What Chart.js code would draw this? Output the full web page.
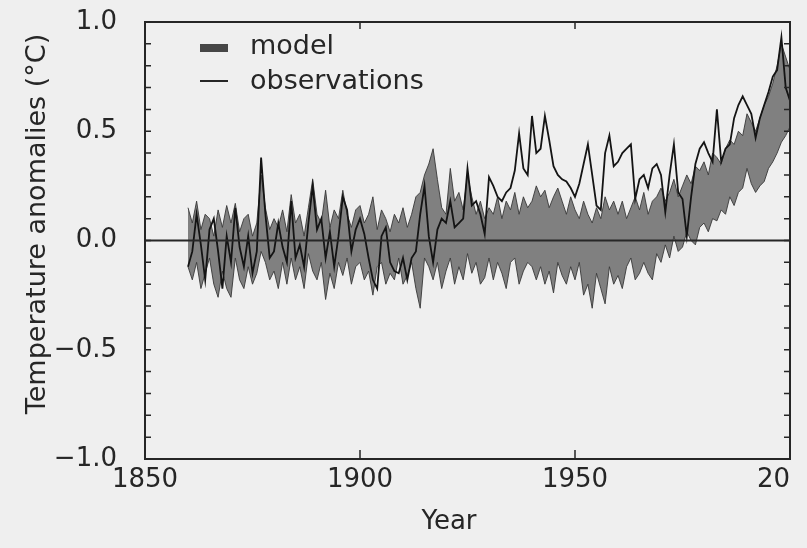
<!doctype html>
<html lang="en">
  <head>
    <meta charset="utf-8">
    <title>Temperature anomalies: model vs observations</title>
    <style>
      * {
        margin: 0;
        padding: 0;
      }
      body {
        background: #efefef;
      }
      .chartBox {
        width: 807px;
        height: 548px;
      }
    </style>
  </head>
  <body>
    <div class="chartBox">
      <canvas id="myChart"></canvas>
    </div>
    <script src="https://cdn.jsdelivr.net/npm/chart.js"></script>
    <script>
    // data (annual values, first year 1860)
    const firstYear = 1860;
    const xTicks = [1850, 1900, 1950, 2000];
    const yTicks = [-1.0, -0.5, 0.0, 0.5, 1.0];

    const observations = [
      -0.12, -0.05, 0.12, -0.02, -0.18, 0.05, 0.10, -0.05, -0.22, 0.02,
      -0.10, 0.15, -0.03, -0.12, 0.02, -0.15, -0.05, 0.38, 0.12, -0.08,
      -0.05, 0.08, -0.03, -0.10, 0.18, -0.08, -0.02, -0.12, 0.08, 0.25,
      0.05, 0.10, -0.08, 0.04, -0.12, 0.02, 0.20, 0.14, -0.05, 0.05,
      0.10, 0.03, -0.08, -0.18, -0.22, 0.02, 0.06, -0.10, -0.14, -0.15,
      -0.08, -0.18, -0.08, -0.05, 0.12, 0.25, 0.02, -0.10, 0.05, 0.10,
      0.08, 0.18, 0.06, 0.08, 0.10, 0.33, 0.16, 0.18, 0.12, 0.03,
      0.29, 0.25, 0.20, 0.18, 0.22, 0.24, 0.32, 0.49, 0.33, 0.30,
      0.57, 0.40, 0.42, 0.57, 0.46, 0.34, 0.30, 0.28, 0.27, 0.24,
      0.20, 0.26, 0.35, 0.44, 0.30, 0.16, 0.14, 0.40, 0.48, 0.34,
      0.36, 0.40, 0.42, 0.44, 0.19, 0.28, 0.30, 0.24, 0.33, 0.35,
      0.30, 0.13, 0.30, 0.44, 0.22, 0.19, 0.02, 0.20, 0.35, 0.42,
      0.45, 0.40, 0.36, 0.60, 0.36, 0.42, 0.44, 0.56, 0.62, 0.66,
      0.62, 0.58, 0.47, 0.56, 0.62, 0.68, 0.75, 0.78, 0.93, 0.70,
      0.64
    ];

    const modelLow = [
      -0.12, -0.18, -0.10, -0.22, -0.15, -0.08, -0.20, -0.26, -0.14, -0.22,
      -0.26, -0.08, -0.18, -0.22, -0.12, -0.20, -0.15, -0.05, -0.10, -0.18,
      -0.14, -0.22, -0.10, -0.20, -0.08, -0.18, -0.12, -0.22, -0.06, -0.14,
      -0.18, -0.10, -0.27, -0.15, -0.22, -0.10, -0.16, -0.08, -0.20, -0.12,
      -0.10, -0.18, -0.14, -0.25, -0.12, -0.10, -0.20, -0.15, -0.18, -0.08,
      -0.20, -0.16, -0.10, -0.22, -0.31, -0.08, -0.12, -0.18, -0.10, -0.22,
      -0.14, -0.08, -0.20, -0.12, -0.18, -0.06, -0.15, -0.10, -0.20, -0.17,
      -0.08, -0.18, -0.10, -0.15, -0.22, -0.10, -0.08, -0.20, -0.14, -0.10,
      -0.12, -0.18, -0.12, -0.20, -0.14, -0.24, -0.10, -0.16, -0.20, -0.12,
      -0.18, -0.10, -0.25, -0.20, -0.31, -0.15, -0.22, -0.29, -0.12, -0.20,
      -0.16, -0.22, -0.12, -0.08, -0.18, -0.15, -0.10, -0.15, -0.18, -0.06,
      -0.10, -0.02, -0.08, 0.02, -0.05, -0.03, 0.04, 0.00, -0.02, 0.06,
      0.08, 0.04, 0.10, 0.09, 0.14, 0.12, 0.20, 0.16, 0.22, 0.24,
      0.33, 0.26, 0.22, 0.25, 0.27, 0.33, 0.36, 0.40, 0.45, 0.48,
      0.52
    ];

    const modelHigh = [
      0.15, 0.08, 0.18, 0.05, 0.12, 0.10, 0.02, 0.14, 0.06, 0.16,
      0.08, 0.17, 0.04, 0.10, 0.12, 0.02, 0.08, 0.30, 0.15, 0.05,
      0.10, 0.06, 0.14, 0.04, 0.21, 0.08, 0.12, 0.02, 0.15, 0.28,
      0.12, 0.08, 0.23, 0.06, 0.14, 0.10, 0.23, 0.12, 0.06, 0.14,
      0.16, 0.08, 0.12, 0.20, 0.05, 0.14, 0.10, 0.04, 0.12, 0.08,
      0.15, 0.06, 0.12, 0.20, 0.22, 0.30, 0.35, 0.42, 0.28, 0.15,
      0.12, 0.33, 0.18, 0.22, 0.14, 0.30, 0.20, 0.12, 0.18, 0.10,
      0.15, 0.12, 0.20, 0.10, 0.18, 0.14, 0.22, 0.12, 0.20, 0.15,
      0.18, 0.25, 0.20, 0.23, 0.15, 0.20, 0.24, 0.18, 0.12, 0.20,
      0.14, 0.10, 0.18, 0.12, 0.08, 0.15, 0.10, 0.20, 0.14, 0.18,
      0.12, 0.18, 0.10, 0.15, 0.20, 0.14, 0.22, 0.12, 0.18, 0.20,
      0.24, 0.18, 0.22, 0.28, 0.20, 0.25, 0.30, 0.26, 0.34, 0.32,
      0.36, 0.30, 0.40, 0.38, 0.35, 0.42, 0.46, 0.44, 0.50, 0.48,
      0.58, 0.54, 0.50, 0.56, 0.62, 0.66, 0.72, 0.80, 0.90, 0.84,
      0.78
    ];

    const toPoints = arr => arr.map((v, i) => ({ x: firstYear + i, y: v }));

    const ink = '#262626';
    const bandFill = 'rgba(75, 75, 75, 0.68)';
    const bandEdge = 'rgba(55, 55, 55, 0.9)';
    const font = 'DejaVu Sans';

    // scale box with fixed size and no extra label padding
    const fixBox = (w, h) => s => {
      if (w) s.width = w;
      if (h) s.height = h;
      s.paddingTop = 0;
      s.paddingBottom = 0;
      s.paddingLeft = 0;
      s.paddingRight = 0;
    };

    // inward ticks, frame, zero line, axis titles and legend
    const frame = {
      id: 'frame',
      afterDatasetsDraw(chart) {
        const { ctx, chartArea: a, scales: { x, y } } = chart;
        ctx.save();
        ctx.strokeStyle = ink;
        ctx.lineWidth = 2;
        const y0 = y.getPixelForValue(0);
        ctx.beginPath();
        ctx.moveTo(a.left, y0);
        ctx.lineTo(a.right, y0);
        ctx.stroke();
        ctx.strokeRect(a.left, a.top, a.right - a.left, a.bottom - a.top);

        ctx.lineWidth = 1.5;
        ctx.beginPath();
        y.ticks.forEach(t => {
          const py = y.getPixelForValue(t.value);
          ctx.moveTo(a.left, py);
          ctx.lineTo(a.left + 6, py);
          ctx.moveTo(a.right, py);
          ctx.lineTo(a.right - 6, py);
        });
        x.ticks.forEach(t => {
          if (t.value <= x.min || t.value >= x.max) return;
          const px = x.getPixelForValue(t.value);
          ctx.moveTo(px, a.bottom);
          ctx.lineTo(px, a.bottom - 9);
          ctx.moveTo(px, a.top);
          ctx.lineTo(px, a.top + 7);
        });
        ctx.stroke();
        ctx.restore();
      },
      afterDraw(chart) {
        const { ctx, chartArea: a } = chart;
        ctx.save();
        ctx.fillStyle = ink;
        ctx.textAlign = 'center';
        ctx.textBaseline = 'middle';

        // x axis title
        ctx.font = '26px "' + font + '"';
        ctx.fillText('Year', 449, 522);

        // y axis title
        ctx.font = '27px "' + font + '"';
        ctx.translate(38, 224);
        ctx.rotate(-Math.PI / 2);
        ctx.fillText('Temperature anomalies (°C)', 0, 0);
        ctx.setTransform(1, 0, 0, 1, 0, 0);

        // legend
        const ds = chart.data.datasets;
        ctx.textAlign = 'left';
        ctx.fillStyle = 'rgb(70, 70, 70)';
        ctx.fillRect(a.left + 55, 44, 28, 8);
        ctx.fillStyle = ink;
        ctx.fillText(ds[2].label, a.left + 105, 47);
        ctx.strokeStyle = ink;
        ctx.lineWidth = 2;
        ctx.beginPath();
        ctx.moveTo(a.left + 55, 81);
        ctx.lineTo(a.left + 83, 81);
        ctx.stroke();
        ctx.fillText(ds[0].label, a.left + 105, 82);
        ctx.restore();
      }
    };

    // setup
    const data = {
      datasets: [{
        label: 'observations',
        data: toPoints(observations),
        borderColor: '#141414',
        borderWidth: 1.8,
        pointRadius: 0,
        fill: false,
        tension: 0
      }, {
        label: 'model low',
        data: toPoints(modelLow),
        borderColor: bandEdge,
        borderWidth: 1,
        pointRadius: 0,
        fill: false,
        tension: 0
      }, {
        label: 'model',
        data: toPoints(modelHigh),
        borderColor: bandEdge,
        backgroundColor: bandFill,
        borderWidth: 1,
        pointRadius: 0,
        fill: '-1',
        tension: 0
      }]
    };

    // config
    const config = {
      type: 'line',
      data,
      options: {
        responsive: true,
        maintainAspectRatio: false,
        animation: false,
        layout: {
          padding: { top: 22, right: 17, left: 0, bottom: 0 }
        },
        plugins: {
          legend: { display: false },
          tooltip: { enabled: false }
        },
        scales: {
          x: {
            type: 'linear',
            min: xTicks[0],
            max: xTicks[xTicks.length - 1],
            afterFit: fixBox(0, 89),
            afterBuildTicks: s => { s.ticks = xTicks.map(v => ({ value: v })); },
            grid: { display: false },
            border: { display: false },
            ticks: {
              padding: -2,
              color: ink,
              font: { family: font, size: 26 },
              maxRotation: 0,
              autoSkip: false,
              // the last label is cut at the picture edge
              callback: v => v === 2000 ? '20\u2007\u2007' : String(v)
            }
          },
          y: {
            min: yTicks[0],
            max: yTicks[yTicks.length - 1],
            afterFit: fixBox(145, 0),
            grid: { display: false },
            border: { display: false },
            ticks: {
              stepSize: 0.1,
              autoSkip: false,
              padding: 20,
              color: ink,
              font: { family: font, size: 26 },
              callback: v => {
                const hit = yTicks.find(t => Math.abs(t - v) < 1e-6);
                if (hit === undefined) return '';
                return hit.toFixed(1).replace('-', '\u2212');
              }
            }
          }
        }
      },
      plugins: [frame]
    };

    // render init block
    const myChart = new Chart(
      document.getElementById('myChart'),
      config
    );
    </script>
  </body>
</html>
